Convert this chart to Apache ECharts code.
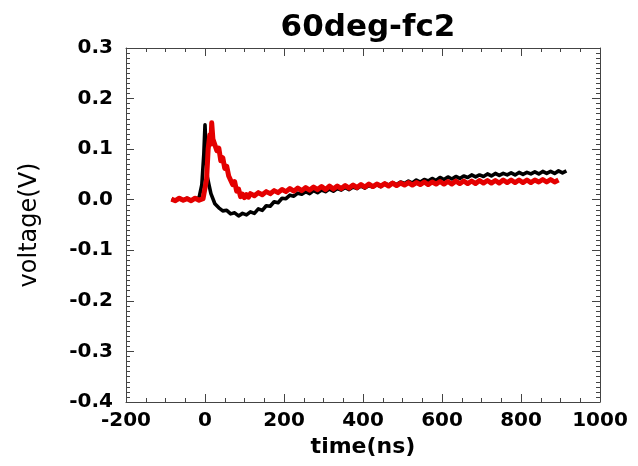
<!DOCTYPE html>
<html>
<head>
<meta charset="utf-8">
<script src="https://cdn.jsdelivr.net/npm/echarts@6/dist/echarts.min.js"></script>
<style>
html,body{margin:0;padding:0;background:#fff;}
#chart{width:638px;height:466px;}
</style>
</head>
<body>
<div id="chart"></div>
<script>
// ---- Data ----
const chartTitle = '60deg-fc2';
const xTicks = [-200, 0, 200, 400, 600, 800, 1000];
const yTicks = [-0.4, -0.3, -0.2, -0.1, 0.0, 0.1, 0.2, 0.3];

const blackTime = [-85,-75,-65,-55,-45,-35,-25,-15,-8,-3,0,3,6,10,15,25,35,45,55,65,75,85,95,105,115,125,135,145,155,165,175,185,195,205,215,225,235,245,255,265,275,285,295,305,315,325,335,345,355,365,375,385,395,405,415,425,435,445,455,465,475,485,495,505,515,525,535,545,555,565,575,585,595,605,615,625,635,645,655,665,675,685,695,705,715,725,735,745,755,765,775,785,795,805,815,825,835,845,855,865,875,885,895,905,915];
const blackVolt = [0.001,-0.002,0.002,-0.001,0.003,-0.002,0.002,0.004,0.03,0.09,0.148,0.09,0.045,0.03,0.012,-0.008,-0.016,-0.022,-0.021,-0.028,-0.026,-0.032,-0.027,-0.03,-0.024,-0.027,-0.018,-0.021,-0.012,-0.013,-0.004,-0.006,0.003,0.002,0.009,0.007,0.013,0.011,0.016,0.012,0.018,0.014,0.019,0.016,0.021,0.017,0.022,0.019,0.024,0.02,0.025,0.022,0.027,0.023,0.028,0.025,0.03,0.026,0.032,0.029,0.034,0.03,0.035,0.032,0.037,0.033,0.039,0.035,0.04,0.037,0.042,0.038,0.044,0.04,0.045,0.041,0.046,0.042,0.047,0.044,0.049,0.045,0.049,0.046,0.051,0.047,0.052,0.048,0.052,0.049,0.053,0.049,0.054,0.05,0.054,0.051,0.055,0.051,0.056,0.052,0.056,0.052,0.057,0.053,0.057];

const redTime = [-85,-75,-65,-55,-45,-35,-25,-15,-5,0,4,8,12,15,17,20,25,30,35,40,45,50,55,60,65,70,75,80,85,90,95,100,105,110,115,125,135,145,155,165,175,185,195,205,215,225,235,245,255,265,275,285,295,305,315,325,335,345,355,365,375,385,395,405,415,425,435,445,455,465,475,485,495,505,515,525,535,545,555,565,575,585,595,605,615,625,635,645,655,665,675,685,695,705,715,725,735,745,755,765,775,785,795,805,815,825,835,845,855,865,875,885,895];
const redVolt = [0.001,-0.002,0.003,-0.001,0.002,-0.002,0.003,-0.001,0.002,0.002,0.04,0.1,0.128,0.11,0.152,0.12,0.122,0.097,0.102,0.077,0.083,0.062,0.066,0.047,0.05,0.03,0.036,0.017,0.021,0.006,0.011,0.004,0.01,0.005,0.012,0.008,0.014,0.01,0.016,0.012,0.018,0.014,0.02,0.016,0.022,0.017,0.023,0.018,0.024,0.019,0.025,0.02,0.026,0.02,0.027,0.021,0.027,0.022,0.028,0.023,0.029,0.024,0.03,0.025,0.031,0.026,0.031,0.027,0.032,0.027,0.033,0.028,0.033,0.029,0.034,0.029,0.034,0.03,0.035,0.03,0.035,0.031,0.036,0.031,0.036,0.031,0.037,0.032,0.037,0.032,0.037,0.032,0.038,0.033,0.038,0.033,0.038,0.033,0.039,0.034,0.039,0.034,0.039,0.034,0.039,0.034,0.039,0.035,0.04,0.035,0.04,0.035,0.039];

// ---- Chart ----
const FONT = 'DejaVu Sans';
const axisColor = '#444';
const chart = echarts.init(document.getElementById('chart'), null, {renderer: 'canvas'});

function xAxisDef(pos, showLabel) {
  return {
    type: 'value', position: pos, min: xTicks[0], max: xTicks[xTicks.length - 1], interval: 200,
    axisLine: {show: true, onZero: false, lineStyle: {color: axisColor, width: 1}},
    axisTick: {show: true, inside: true, length: 8, lineStyle: {color: axisColor}},
    minorTick: {show: true, splitNumber: 4, length: 4, lineStyle: {color: axisColor}},
    splitLine: {show: false},
    axisLabel: {show: showLabel, margin: 9, color: '#000', fontFamily: FONT, fontWeight: 'bold', fontSize: 20,
      formatter: v => String(v)},
    name: showLabel ? 'time(ns)' : '', nameLocation: 'middle', nameGap: 33,
    nameTextStyle: {color: '#000', fontFamily: FONT, fontWeight: 'bold', fontSize: 22}
  };
}
function yAxisDef(pos, showLabel) {
  return {
    type: 'value', position: pos, min: yTicks[0], max: yTicks[yTicks.length - 1], interval: 0.1,
    axisLine: {show: true, onZero: false, lineStyle: {color: axisColor, width: 1}},
    axisTick: {show: true, inside: true, length: 8, lineStyle: {color: axisColor}},
    minorTick: {show: true, splitNumber: 10, length: 4, lineStyle: {color: axisColor}},
    splitLine: {show: false},
    axisLabel: {show: showLabel, margin: 13, color: '#000', fontFamily: FONT, fontWeight: 'bold', fontSize: 20,
      formatter: v => v.toFixed(1)},
    name: showLabel ? 'voltage(V)' : '', nameLocation: 'middle', nameGap: 84, nameRotate: 90,
    nameTextStyle: {color: '#000', fontFamily: FONT, fontSize: 24}
  };
}

const option = {
  animation: false,
  backgroundColor: '#fff',
  title: {
    text: chartTitle, left: 363, top: 7, textAlign: 'center',
    textStyle: {color: '#000', fontFamily: FONT, fontWeight: 'bold', fontSize: 31}
  },
  grid: {left: 126, right: 38, top: 48, bottom: 64, containLabel: false},
  xAxis: [xAxisDef('bottom', true), xAxisDef('top', false)],
  yAxis: [yAxisDef('left', true), yAxisDef('right', false)],
  series: [
    {
      type: 'line', xAxisIndex: 0, yAxisIndex: 0, showSymbol: false, symbol: 'none',
      data: blackTime.map((t, i) => [t, blackVolt[i]]),
      lineStyle: {color: '#000', width: 3.6, join: 'round'}, z: 2
    },
    {
      type: 'line', xAxisIndex: 0, yAxisIndex: 0, showSymbol: false, symbol: 'none',
      data: redTime.map((t, i) => [t, redVolt[i]]),
      lineStyle: {color: '#e40000', width: 5, join: 'round'}, z: 3
    }
  ]
};
chart.setOption(option);
</script>
</body>
</html>
